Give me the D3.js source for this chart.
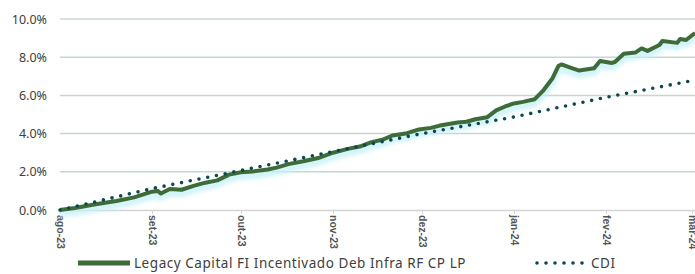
<!DOCTYPE html>
<html>
<head>
<meta charset="utf-8">
<script src="https://cdn.jsdelivr.net/npm/d3@7"></script>
<style>
  body { margin: 0; background: #fff; }
  svg { display: block; }
</style>
</head>
<body>
<div id="chart"></div>
<script>
const fundName = "Legacy Capital FI Incentivado Deb Infra RF CP LP";
const benchName = "CDI";

const fundDates = ["2023-08-01","2023-08-06","2023-08-13","2023-08-20","2023-08-26","2023-09-01","2023-09-03","2023-09-04",
  "2023-09-07","2023-09-11","2023-09-15","2023-09-19","2023-09-23","2023-09-27","2023-10-01","2023-10-05","2023-10-10",
  "2023-10-13","2023-10-17","2023-10-22","2023-10-27","2023-11-01","2023-11-06","2023-11-10","2023-11-14","2023-11-18",
  "2023-11-21","2023-11-26","2023-11-30","2023-12-04","2023-12-07","2023-12-13","2023-12-16","2023-12-19","2023-12-23",
  "2023-12-26","2023-12-29","2024-01-01","2024-01-04","2024-01-08","2024-01-11","2024-01-14","2024-01-16","2024-01-17",
  "2024-01-20","2024-01-23","2024-01-28","2024-01-30","2024-02-03","2024-02-04","2024-02-07","2024-02-11","2024-02-13",
  "2024-02-15","2024-02-19","2024-02-20","2024-02-25","2024-02-26","2024-02-28","2024-03-02"];
const fundValues = [0.00,0.10,0.30,0.47,0.66,0.96,1.00,0.86,
  1.10,1.06,1.26,1.43,1.55,1.85,1.98,2.02,2.12,
  2.22,2.40,2.55,2.72,3.00,3.20,3.32,3.55,3.70,
  3.90,4.02,4.22,4.30,4.42,4.58,4.62,4.75,4.86,
  5.22,5.42,5.58,5.66,5.80,6.28,6.90,7.55,7.62,
  7.45,7.30,7.42,7.80,7.70,7.75,8.18,8.25,8.46,
  8.33,8.64,8.85,8.75,8.95,8.90,9.27];

const cdiDates = ["2023-08-01","2023-09-01","2023-10-01","2023-11-01","2023-12-01","2024-01-01","2024-02-01","2024-03-02"];
const cdiValues = [0.00,1.12,2.07,3.06,4.00,4.87,5.90,6.80];

const yTicks = [0, 2, 4, 6, 8, 10];
const xTickDates = ["2023-08-01","2023-09-01","2023-10-01","2023-11-01","2023-12-01","2024-01-01","2024-02-01","2024-03-01"];
const monthLabels = ["jan","fev","mar","abr","mai","jun","jul","ago","set","out","nov","dez"];

const width = 695, height = 274;
const margin = { top: 19, right: 0, bottom: 64, left: 60 };
const parse = d3.utcParse("%Y-%m-%d");

const fund = fundDates.map((d, i) => ({ date: parse(d), value: fundValues[i] }));
const cdi = cdiDates.map((d, i) => ({ date: parse(d), value: cdiValues[i] }));

const svg = d3.select("#chart").append("svg").attr("width", width).attr("height", height);

const x = d3.scaleUtc()
  .domain([parse("2023-08-01"), parse("2024-03-02")])
  .range([margin.left, width - margin.right]);
const y = d3.scaleLinear()
  .domain([0, 10])
  .range([height - margin.bottom, margin.top]);

const defs = svg.append("defs");
defs.append("filter").attr("id", "glow")
  .attr("x", "-5%").attr("y", "-20%").attr("width", "110%").attr("height", "140%")
  .append("feGaussianBlur").attr("stdDeviation", 2.2);

// grid
svg.append("g")
  .selectAll("line")
  .data(yTicks.filter(t => t > 0))
  .join("line")
  .attr("x1", margin.left).attr("x2", width - margin.right)
  .attr("y1", d => y(d)).attr("y2", d => y(d))
  .attr("stroke", "#c4d8d1").attr("stroke-width", 1.5);

// y labels
svg.append("g")
  .selectAll("text")
  .data(yTicks)
  .join("text")
  .attr("x", 47).attr("y", d => y(d) + 4.5)
  .attr("text-anchor", "end")
  .attr("font-family", "Noto Sans, sans-serif")
  .attr("font-size", 12.5)
  .attr("fill", "#404040")
  .text(d => d.toFixed(1) + "%");

// x axis
const xAxis = svg.append("g")
  .attr("transform", `translate(0,${y(0)})`)
  .call(d3.axisBottom(x)
    .tickValues(xTickDates.map(parse))
    .tickSize(4)
    .tickFormat(d => monthLabels[d.getUTCMonth()] + "-" + String(d.getUTCFullYear()).slice(2)));
xAxis.select(".domain").attr("stroke", "#d4d4d4").attr("stroke-width", 1.5);
xAxis.selectAll(".tick line").attr("stroke", "#d4d4d4");
xAxis.selectAll(".tick text")
  .attr("font-family", "Liberation Sans, Arial, sans-serif")
  .attr("font-size", 10.5)
  .attr("font-weight", "bold")
  .attr("fill", "#555")
  .attr("text-anchor", "start")
  .attr("transform", "rotate(90)")
  .attr("x", 5).attr("y", 0).attr("dy", "0.35em");

const line = d3.line()
  .x(d => x(d.date))
  .y(d => y(d.value));

// glow under fund line
svg.append("path")
  .datum(fund)
  .attr("d", line)
  .attr("fill", "none")
  .attr("stroke", "#c6f1fb")
  .attr("stroke-width", 7)
  .attr("opacity", 0.85)
  .attr("transform", "translate(0,4)")
  .attr("filter", "url(#glow)");

svg.append("path")
  .datum(fund)
  .attr("d", line)
  .attr("fill", "none")
  .attr("stroke", "#3e6b37")
  .attr("stroke-width", 4)
  .attr("stroke-linejoin", "round");

svg.append("path")
  .datum(cdi)
  .attr("d", line)
  .attr("fill", "none")
  .attr("stroke", "#0b4750")
  .attr("stroke-width", 3.6)
  .attr("stroke-linecap", "round")
  .attr("stroke-dasharray", "0 8.9");

// legend
const legY = 263;
const leg = svg.append("g");
leg.append("line")
  .attr("x1", 78).attr("x2", 130).attr("y1", legY).attr("y2", legY)
  .attr("stroke", "#3e6b37").attr("stroke-width", 5);
leg.append("text")
  .attr("x", 134).attr("y", legY + 5)
  .attr("font-family", "Noto Sans, sans-serif").attr("font-size", 13.5).attr("fill", "#404040")
  .attr("letter-spacing", 0.55)
  .text(fundName);
leg.append("line")
  .attr("x1", 537).attr("x2", 583).attr("y1", legY).attr("y2", legY)
  .attr("stroke", "#0b4750").attr("stroke-width", 3.6)
  .attr("stroke-linecap", "round").attr("stroke-dasharray", "0 9");
leg.append("text")
  .attr("x", 591).attr("y", legY + 5)
  .attr("font-family", "Noto Sans, sans-serif").attr("font-size", 13.5).attr("fill", "#404040")
  .attr("letter-spacing", 0.55)
  .text(benchName);
</script>
</body>
</html>
